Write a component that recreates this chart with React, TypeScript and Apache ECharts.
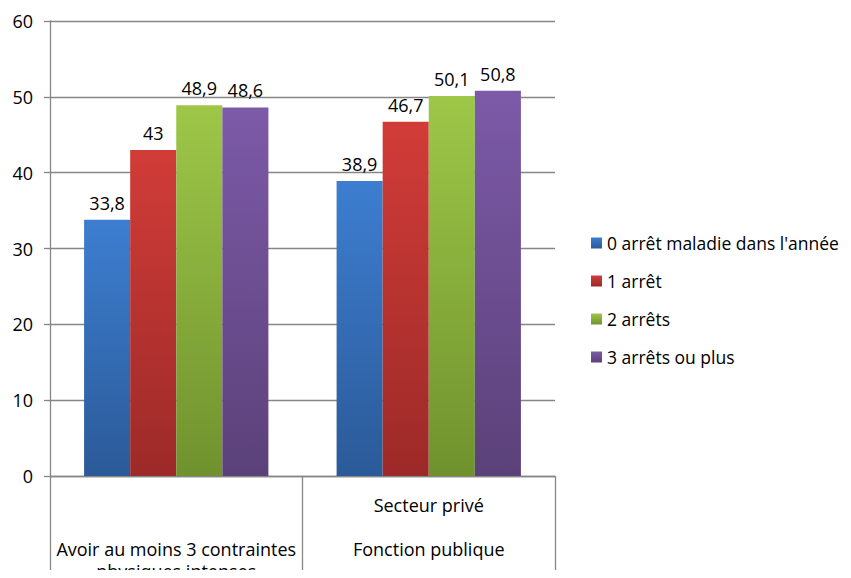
import React, { useEffect, useRef } from "react";
import * as echarts from "echarts";

const categories = [
  "\n\nAvoir au moins 3 contraintes\nphysiques intenses",
  "Secteur privé\n\nFonction publique",
];
const seriesNames = [
  "0 arrêt maladie dans l'année",
  "1 arrêt",
  "2 arrêts",
  "3 arrêts ou plus",
];
const values0 = [33.8, 38.9];
const values1 = [43, 46.7];
const values2 = [48.9, 50.1];
const values3 = [48.6, 50.8];
const yTicks = { min: 0, max: 60, interval: 10 };

const palette = [
  ["#3D7ED0", "#2B5A98"],
  ["#D13C38", "#9C2A28"],
  ["#9EC748", "#70922E"],
  ["#7C5AA8", "#5B4179"],
];

const FONT = "'Open Sans', Lato, sans-serif";
const FS = 18;

export default function App() {
  const ref = useRef<HTMLDivElement>(null);
  useEffect(() => {
    if (!ref.current) return;
    const chart = echarts.init(ref.current, undefined, { renderer: "svg" });
    const allValues = [values0, values1, values2, values3];
    chart.setOption({
      animation: false,
      textStyle: { fontFamily: FONT },
      grid: {
        left: 50,
        right: 296,
        top: 21,
        bottom: 102,
        containLabel: false,
        outerBoundsMode: "none",
      },
      legend: {
        orient: "vertical",
        left: 586,
        top: 227,
        itemWidth: 11,
        itemHeight: 11,
        itemGap: 16,
        icon: "rect",
        textStyle: { fontSize: 17.5, color: "#000", fontFamily: FONT, lineHeight: 22 },
        data: seriesNames,
      },
      xAxis: {
        type: "category",
        data: categories,
        axisLine: { show: true, lineStyle: { color: "#868686", width: 1.3 } },
        axisTick: { show: true, length: 102, lineStyle: { color: "#868686", width: 1.3 } },
        axisLabel: {
          interval: 0,
          margin: 18,
          fontSize: FS,
          lineHeight: 22,
          color: "#000",
          fontFamily: FONT,
        },
      },
      yAxis: {
        type: "value",
        min: yTicks.min,
        max: yTicks.max,
        interval: yTicks.interval,
        axisLine: { show: true, lineStyle: { color: "#868686", width: 1.3 } },
        axisTick: { show: true, length: 6, lineStyle: { color: "#868686", width: 1.3 } },
        splitLine: { show: true, lineStyle: { color: "#868686", width: 1.3 } },
        axisLabel: { fontSize: FS, color: "#000", margin: 17, fontFamily: FONT },
      },
      series: seriesNames.map((name, i) => ({
        name,
        type: "bar",
        data: allValues[i],
        barGap: "0%",
        barCategoryGap: "27%",
        itemStyle: {
          color: new echarts.graphic.LinearGradient(0, 0, 0, 1, [
            { offset: 0, color: palette[i][0] },
            { offset: 1, color: palette[i][1] },
          ]),
        },
        label: {
          show: true,
          position: "top",
          distance: 8,
          fontSize: FS,
          color: "#000",
          fontFamily: FONT,
          formatter: (p: any) => String(p.value).replace(".", ","),
        },
      })),
    });
    return () => chart.dispose();
  }, []);
  return <div ref={ref} style={{ width: 851, height: 578, margin: -8 }} />;
}
